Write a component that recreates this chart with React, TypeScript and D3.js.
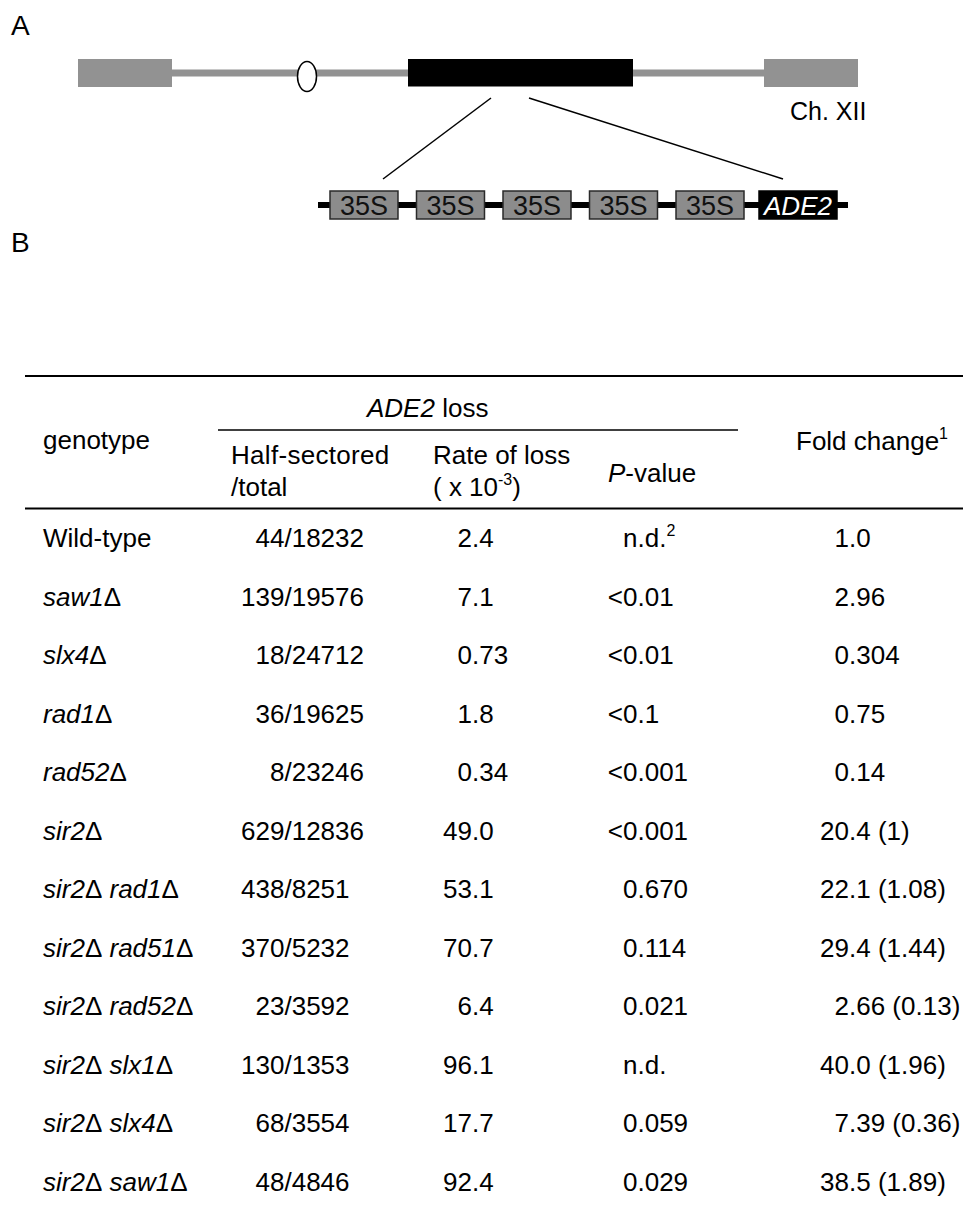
import React from 'react';
import * as d3 from 'd3';

// table data
const genotypes = [
  'Wild-type', 'saw1Δ', 'slx4Δ', 'rad1Δ', 'rad52Δ', 'sir2Δ',
  'sir2Δ rad1Δ', 'sir2Δ rad51Δ', 'sir2Δ rad52Δ', 'sir2Δ slx1Δ', 'sir2Δ slx4Δ', 'sir2Δ saw1Δ',
];
const halfSectored = [44, 139, 18, 36, 8, 629, 438, 370, 23, 130, 68, 48];
const totals = [18232, 19576, 24712, 19625, 23246, 12836, 8251, 5232, 3592, 1353, 3554, 4846];
const rateOfLoss = ['2.4', '7.1', '0.73', '1.8', '0.34', '49.0', '53.1', '70.7', '6.4', '96.1', '17.7', '92.4'];
const pValues = ['n.d.', '<0.01', '<0.01', '<0.1', '<0.001', '<0.001', '0.670', '0.114', '0.021', 'n.d.', '0.059', '0.029'];
const pFootnotes = ['2', '', '', '', '', '', '', '', '', '', '', ''];
const foldChange = ['1.0', '2.96', '0.304', '0.75', '0.14', '20.4', '22.1', '29.4', '2.66', '40.0', '7.39', '38.5'];
const foldVsSir2 = ['', '', '', '', '', '1', '1.08', '1.44', '0.13', '1.96', '0.36', '1.89'];

// diagram data
const constructUnits = ['35S', '35S', '35S', '35S', '35S', 'ADE2'];

const W = 967;
const H = 1216;
const FONT = "'Liberation Sans', Arial, Helvetica, sans-serif";
const FS = 26;
const SUP = 16;
const DIGIT = 0.556 * FS;
const GREY = '#929292';

const splitDecimal = (s: string) => {
  const i = s.indexOf('.');
  return i < 0 ? [s, ''] : [s.slice(0, i), s.slice(i)];
};

const Genotype = ({ name }: { name: string }) => {
  const italic = name !== 'Wild-type';
  const parts = name.split(/(Δ)/).filter((p) => p !== '');
  return (
    <>
      {parts.map((p, i) => (
        <tspan key={i} fontStyle={italic && p !== 'Δ' ? 'italic' : 'normal'}>{p}</tspan>
      ))}
    </>
  );
};

export default function App() {
  // row layout
  const y = d3.scaleBand<string>().domain(genotypes).range([508.75, 1210.75]);
  const col = d3
    .scaleOrdinal<string, number>()
    .domain(['genotype', 'half', 'rate', 'p', 'fold'])
    .range([43, 364, 472, 623, 849]);
  const base = (g: string) => (y(g) ?? 0) + y.bandwidth() / 2 + 9.3;

  // construct layout
  const unitX = d3
    .scaleBand<number>()
    .domain(d3.range(constructUnits.length))
    .range([330, 830.5])
    .paddingInner(0.214);

  const link = d3.line();

  return (
    <svg
      width={W}
      height={H}
      style={{ position: 'absolute', left: 0, top: 0, background: '#fff' }}
      fontFamily={FONT}
      fontSize={FS}
    >
      {/* panel A */}
      <text x={11} y={35} fontSize={28}>A</text>
      <rect x={172} y={69.5} width={592} height={7} fill={GREY} />
      <rect x={78} y={59} width={94} height={28} fill={GREY} />
      <rect x={764} y={59} width={94} height={28} fill={GREY} />
      <rect x={408} y={59} width={225} height={27.5} fill="#000" />
      <ellipse cx={307} cy={76.5} rx={9.5} ry={15} fill="#fff" stroke="#000" strokeWidth={1.5} />
      <text x={790} y={120} fontSize={25}>Ch. XII</text>
      <path d={link([[491, 98], [383, 179]]) ?? ''} stroke="#000" strokeWidth={1.5} fill="none" />
      <path d={link([[529, 98], [783, 179]]) ?? ''} stroke="#000" strokeWidth={1.5} fill="none" />

      <rect x={318} y={202} width={530} height={6} fill="#000" />
      {constructUnits.map((u, i) => {
        const ade = u === 'ADE2';
        const x0 = (unitX(i) ?? 0) - (ade ? 3.5 : 0);
        const w = unitX.bandwidth() + (ade ? 10 : 0);
        return (
          <g key={i}>
            <rect
              x={x0}
              y={191}
              width={w}
              height={28}
              fill={ade ? '#000' : '#8c8c8c'}
              stroke={ade ? '#000' : '#2a2a2a'}
              strokeWidth={1.5}
            />
            <text
              x={x0 + w / 2}
              y={214.5}
              textAnchor="middle"
              fontSize={ade ? 26 : 27}
              fill={ade ? '#fff' : '#111'}
              fontStyle={ade ? 'italic' : 'normal'}
            >
              {u}
            </text>
          </g>
        );
      })}

      {/* panel B */}
      <text x={11} y={252} fontSize={28}>B</text>

      <line x1={25} x2={963} y1={376} y2={376} stroke="#000" strokeWidth={2} />
      <line x1={218} x2={738} y1={430} y2={430} stroke="#000" strokeWidth={1.5} />
      <line x1={25} x2={963} y1={508.5} y2={508.5} stroke="#000" strokeWidth={2} />

      <text x={367} y={417}>
        <tspan fontStyle="italic">ADE2</tspan> loss
      </text>
      <text x={col('genotype')} y={449}>genotype</text>
      <text x={231} y={464} letterSpacing={0.3}>Half-sectored</text>
      <text x={231} y={496}>/total</text>
      <text x={433} y={464}>Rate of loss</text>
      <text x={433} y={496}>
        ( x 10<tspan fontSize={SUP} dy={-11}>-3</tspan><tspan dy={11}>)</tspan>
      </text>
      <text x={608} y={482}>
        <tspan fontStyle="italic">P</tspan>-value
      </text>
      <text x={796} y={450}>
        Fold change<tspan fontSize={SUP} dy={-11}>1</tspan>
      </text>

      {genotypes.map((g, i) => {
        const by = base(g);
        const [rInt, rFrac] = splitDecimal(rateOfLoss[i]);
        const foldStr = foldChange[i] + (foldVsSir2[i] ? ` (${foldVsSir2[i]})` : '');
        const [fInt, fFrac] = splitDecimal(foldStr);
        const p = pValues[i];
        const lt = p.startsWith('<');
        const pad = (5 - String(totals[i]).length) * DIGIT;
        return (
          <g key={g}>
            <text x={col('genotype')} y={by}>
              <Genotype name={g} />
            </text>
            <text x={col('half') - pad} y={by} textAnchor="end">
              {`${halfSectored[i]}/${totals[i]}`}
            </text>
            <text x={col('rate')} y={by} textAnchor="end">{rInt}</text>
            <text x={col('rate')} y={by}>{rFrac}</text>
            {lt && (
              <text x={col('p')} y={by} textAnchor="end">&lt;</text>
            )}
            <text x={col('p')} y={by}>
              {lt ? p.slice(1) : p}
              {pFootnotes[i] && (
                <tspan fontSize={SUP} dy={-11}>{pFootnotes[i]}</tspan>
              )}
            </text>
            <text x={col('fold')} y={by} textAnchor="end">{fInt}</text>
            <text x={col('fold')} y={by}>{fFrac}</text>
          </g>
        );
      })}
    </svg>
  );
}
